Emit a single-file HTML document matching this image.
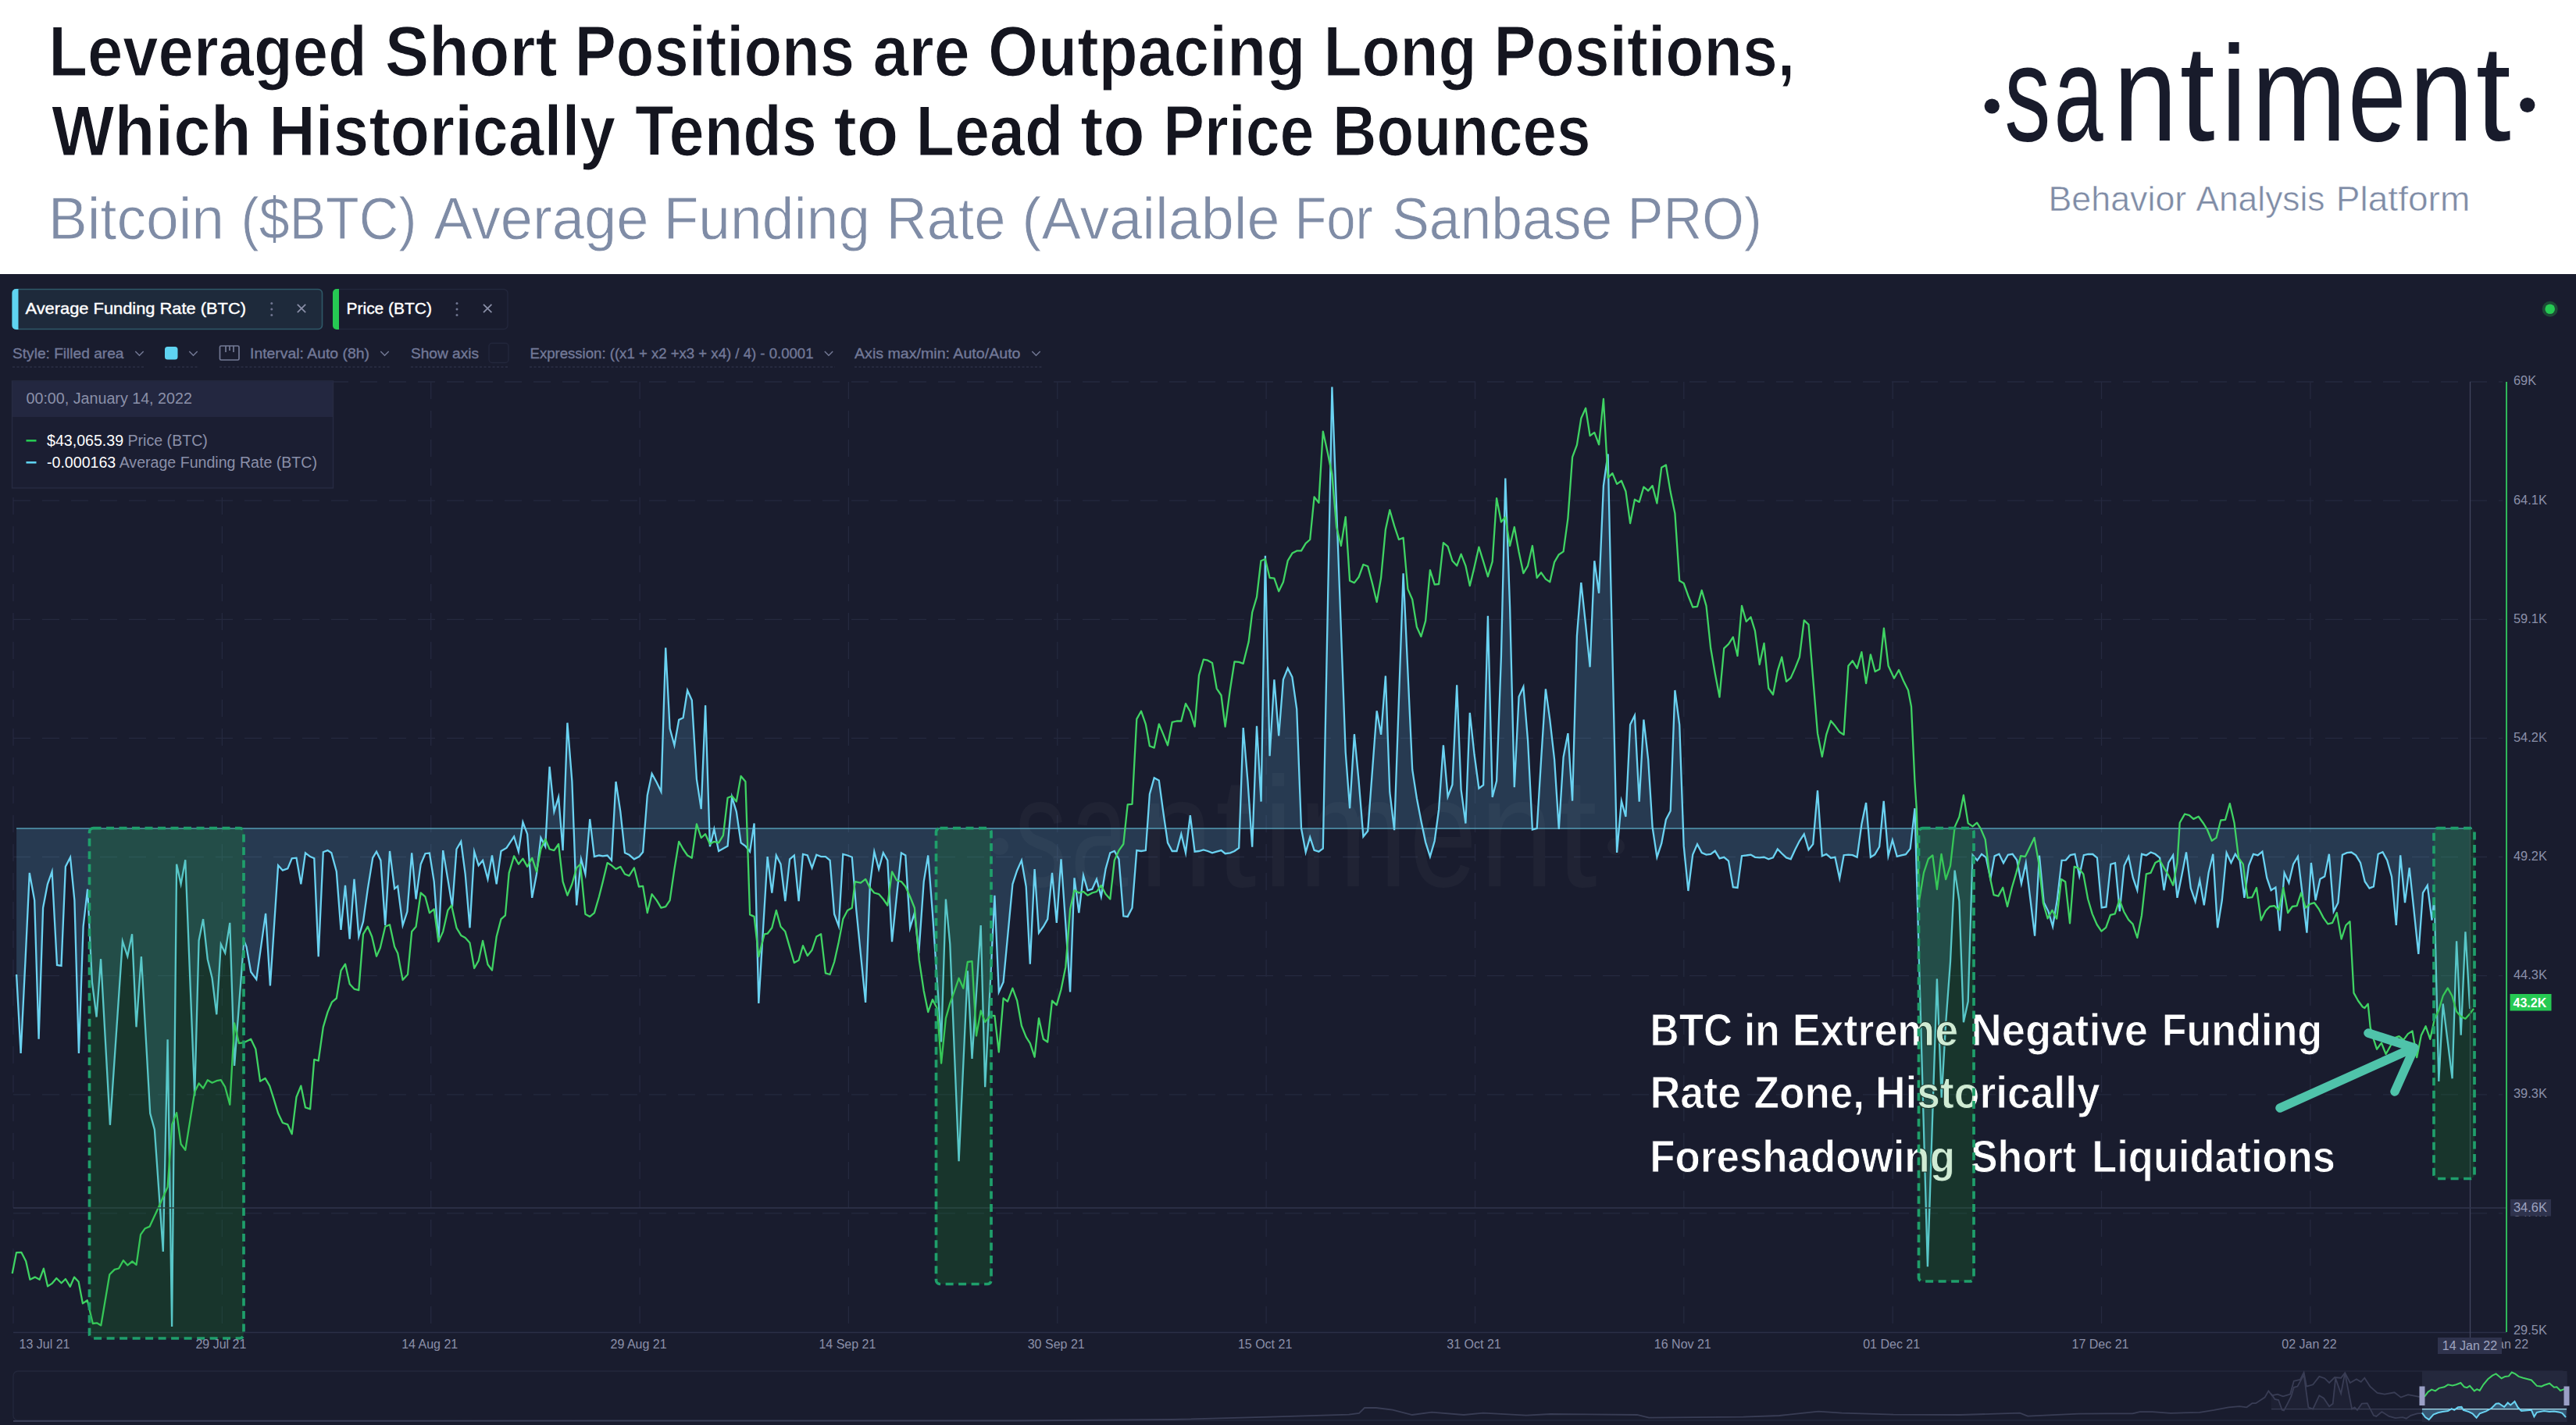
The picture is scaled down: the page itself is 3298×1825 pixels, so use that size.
<!DOCTYPE html><html><head><meta charset="utf-8"><title>Santiment chart</title>
<style>html,body{margin:0;padding:0;background:#fff}body{width:3298px;height:1825px;overflow:hidden}svg{display:block}text{font-family:"Liberation Sans",sans-serif}</style></head><body>
<svg width="3298" height="1825" viewBox="0 0 3298 1825">
<rect x="0" y="0" width="3298" height="351" fill="#ffffff"/>
<rect x="0" y="351" width="3298" height="1474" fill="#191c2e"/>
<g id="header">
<text y="96.5" font-size="90" font-weight="700" fill="#14151f" stroke="#ffffff" stroke-width="1.2" stroke-linejoin="round"><tspan x="62.2" textLength="407.7" lengthAdjust="spacingAndGlyphs">Leveraged</tspan> <tspan x="492.7" textLength="220.9" lengthAdjust="spacingAndGlyphs">Short</tspan> <tspan x="735.7" textLength="358.3" lengthAdjust="spacingAndGlyphs">Positions</tspan> <tspan x="1117.6" textLength="124.0" lengthAdjust="spacingAndGlyphs">are</tspan> <tspan x="1265.0" textLength="406.4" lengthAdjust="spacingAndGlyphs">Outpacing</tspan> <tspan x="1694.4" textLength="196.3" lengthAdjust="spacingAndGlyphs">Long</tspan> <tspan x="1912.6" textLength="385.6" lengthAdjust="spacingAndGlyphs">Positions,</tspan></text>
<text y="199.3" font-size="90" font-weight="700" fill="#14151f" stroke="#ffffff" stroke-width="1.2" stroke-linejoin="round"><tspan x="66.1" textLength="255.6" lengthAdjust="spacingAndGlyphs">Which</tspan> <tspan x="344.3" textLength="443.8" lengthAdjust="spacingAndGlyphs">Historically</tspan> <tspan x="813.1" textLength="232.8" lengthAdjust="spacingAndGlyphs">Tends</tspan> <tspan x="1067.5" textLength="82.8" lengthAdjust="spacingAndGlyphs">to</tspan> <tspan x="1172.6" textLength="188.8" lengthAdjust="spacingAndGlyphs">Lead</tspan> <tspan x="1383.2" textLength="82.6" lengthAdjust="spacingAndGlyphs">to</tspan> <tspan x="1489.2" textLength="193.4" lengthAdjust="spacingAndGlyphs">Price</tspan> <tspan x="1706.1" textLength="330.5" lengthAdjust="spacingAndGlyphs">Bounces</tspan></text>
<text y="305.6" font-size="76" font-weight="400" fill="#7f8ca6" stroke="#ffffff" stroke-width="0.8" stroke-linejoin="round"><tspan x="61.8" textLength="225.3" lengthAdjust="spacingAndGlyphs">Bitcoin</tspan> <tspan x="308.4" textLength="225.1" lengthAdjust="spacingAndGlyphs">($BTC)</tspan> <tspan x="555.5" textLength="275.1" lengthAdjust="spacingAndGlyphs">Average</tspan> <tspan x="849.7" textLength="264.3" lengthAdjust="spacingAndGlyphs">Funding</tspan> <tspan x="1134.5" textLength="152.9" lengthAdjust="spacingAndGlyphs">Rate</tspan> <tspan x="1308.3" textLength="330.3" lengthAdjust="spacingAndGlyphs">(Available</tspan> <tspan x="1657.4" textLength="100.5" lengthAdjust="spacingAndGlyphs">For</tspan> <tspan x="1782.2" textLength="282.0" lengthAdjust="spacingAndGlyphs">Sanbase</tspan> <tspan x="2083.6" textLength="172.0" lengthAdjust="spacingAndGlyphs">PRO)</tspan></text>
<circle cx="2550.3" cy="136" r="9.6" fill="#181b2b"/><circle cx="3235.8" cy="134.5" r="9.6" fill="#181b2b"/>
<text y="179.8" font-size="175" font-weight="400" fill="#181b2b" ><tspan x="2566.3" textLength="59.1" lengthAdjust="spacingAndGlyphs">s</tspan><tspan x="2629.5" textLength="63.1" lengthAdjust="spacingAndGlyphs">a</tspan><tspan x="2705.7" textLength="81.6" lengthAdjust="spacingAndGlyphs">n</tspan><tspan x="2790.7" textLength="44.9" lengthAdjust="spacingAndGlyphs">t</tspan><tspan x="2843.6" textLength="33.1" lengthAdjust="spacingAndGlyphs">i</tspan><tspan x="2882.7" textLength="121.1" lengthAdjust="spacingAndGlyphs">m</tspan><tspan x="3006.0" textLength="74.6" lengthAdjust="spacingAndGlyphs">e</tspan><tspan x="3084.4" textLength="82.0" lengthAdjust="spacingAndGlyphs">n</tspan><tspan x="3169.7" textLength="44.9" lengthAdjust="spacingAndGlyphs">t</tspan></text>
<text y="269.5" font-size="43.6" font-weight="400" fill="#7f8ca6" stroke="#ffffff" stroke-width="0.5"><tspan x="2622.5" textLength="176.7" lengthAdjust="spacingAndGlyphs">Behavior</tspan> <tspan x="2811.4" textLength="165.1" lengthAdjust="spacingAndGlyphs">Analysis</tspan> <tspan x="2990.8" textLength="171.5" lengthAdjust="spacingAndGlyphs">Platform</tspan></text>
</g>
<g id="grid" stroke="#25293f" stroke-width="1.3" stroke-dasharray="22,15" fill="none">
<path d="M17,489.0 H3204"/>
<path d="M17,641.1 H3204"/>
<path d="M17,793.3 H3204"/>
<path d="M17,945.4 H3204"/>
<path d="M17,1097.5 H3204"/>
<path d="M17,1249.7 H3204"/>
<path d="M17,1401.8 H3204"/>
<path d="M17,1553.9 H3204"/>
<path d="M17.0,489 V1706"/>
<path d="M284.4,489 V1706"/>
<path d="M551.7,489 V1706"/>
<path d="M819.1,489 V1706"/>
<path d="M1086.4,489 V1706"/>
<path d="M1353.8,489 V1706"/>
<path d="M1621.1,489 V1706"/>
<path d="M1888.5,489 V1706"/>
<path d="M2155.8,489 V1706"/>
<path d="M2423.2,489 V1706"/>
<path d="M2690.5,489 V1706"/>
<path d="M2957.9,489 V1706"/>
</g>
<path d="M17,1706.5 H3209" stroke="#2b2f47" stroke-width="1.5"/>
<path d="M21.1,1061 L21.1,1248.0 L26.6,1349.0 L32.5,1230.0 L37.8,1117.9 L44.2,1153.1 L49.6,1330.7 L55.1,1162.7 L60.9,1132.3 L66.6,1116.3 L73.0,1235.9 L78.5,1236.8 L83.9,1109.9 L90.0,1098.0 L95.4,1153.1 L100.9,1348.9 L106.6,1186.7 L112.1,1138.7 L117.9,1257.6 L123.6,1302.5 L129.1,1228.2 L140.9,1440.8 L156.9,1205.4 L163.3,1224.7 L169.1,1196.3 L174.5,1315.3 L180.9,1225.0 L192.2,1425.8 L197.9,1446.6 L208.8,1602.9 L214.6,1331.3 L220.1,1699.1 L226.1,1106.7 L231.6,1132.3 L237.3,1101.2 L249.2,1403.4 L254.6,1204.5 L260.1,1177.1 L265.8,1228.5 L271.6,1252.8 L277.3,1299.3 L282.8,1209.3 L288.2,1220.5 L294.3,1181.9 L300.1,1364.9 L312.3,1204.5 L315.5,1212.5 L321.2,1244.8 L328.3,1254.4 L340.1,1169.8 L345.9,1262.5 L356.1,1108.3 L361.9,1114.7 L368.3,1112.4 L373.7,1099.3 L379.5,1098.7 L385.3,1132.3 L391.0,1092.3 L397.1,1097.1 L402.3,1099.3 L407.7,1225.2 L413.8,1091.3 L419.5,1089.1 L424.3,1092.3 L430.8,1116.3 L436.5,1190.9 L442.0,1133.9 L447.7,1202.7 L453.5,1125.9 L459.3,1199.5 L465.0,1180.3 L470.8,1138.7 L477.2,1098.7 L482.0,1090.7 L487.4,1101.9 L493.2,1185.1 L499.0,1090.0 L505.1,1138.1 L509.2,1134.9 L515.6,1185.1 L521.4,1167.5 L527.2,1092.3 L532.6,1151.5 L538.7,1106.7 L544.4,1093.2 L549.9,1092.6 L555.7,1129.1 L561.4,1206.0 L567.2,1089.1 L573.3,1125.9 L579.0,1161.1 L584.5,1087.5 L590.2,1077.8 L595.7,1119.5 L601.5,1188.3 L607.2,1090.7 L612.7,1108.3 L618.1,1101.9 L624.5,1125.9 L630.0,1095.5 L635.7,1132.3 L641.5,1090.0 L648.5,1085.9 L658.1,1071.4 L663.9,1090.7 L669.4,1052.9 L675.1,1068.2 L681.2,1149.9 L687.0,1119.5 L692.4,1073.0 L698.2,1084.3 L703.6,981.8 L709.4,1039.4 L715.1,1020.8 L720.6,1089.1 L726.4,925.7 L732.4,1001.0 L738.2,1159.5 L744.0,1100.3 L749.4,1119.5 L755.2,1049.0 L760.9,1097.1 L767.0,1095.5 L771.8,1096.4 L777.6,1095.5 L783.0,1101.9 L788.5,1001.0 L794.3,1039.4 L800.0,1092.3 L805.5,1094.8 L811.9,1100.3 L818.3,1097.1 L823.1,1091.3 L828.8,1018.6 L834.6,990.7 L840.7,1001.9 L846.4,1013.8 L852.2,829.6 L857.6,933.1 L863.4,954.5 L869.2,921.9 L874.6,919.3 L880.1,884.1 L885.8,896.9 L891.9,997.8 L897.7,1036.2 L903.1,903.3 L908.9,1084.3 L914.3,1061.8 L920.1,1090.0 L925.9,1086.8 L931.6,1083.6 L937.1,1020.8 L942.8,1039.4 L948.6,1079.4 L954.4,1083.6 L960.1,1090.7 L965.6,1054.5 L971.3,1284.9 L982.6,1097.1 L988.3,1143.5 L993.8,1095.5 L999.5,1106.7 L1005.3,1154.1 L1011.1,1100.3 L1016.8,1095.5 L1022.6,1154.1 L1028.0,1093.9 L1033.8,1095.5 L1039.6,1111.5 L1045.3,1094.8 L1051.1,1097.1 L1056.9,1097.1 L1062.6,1101.9 L1068.1,1170.7 L1073.8,1186.1 L1079.3,1093.9 L1085.0,1095.5 L1090.8,1097.7 L1096.2,1164.3 L1108.1,1283.9 L1113.9,1132.3 L1119.3,1090.7 L1125.1,1113.1 L1130.8,1092.3 L1136.3,1101.9 L1142.0,1206.2 L1148.1,1146.7 L1153.9,1092.3 L1159.3,1095.5 L1165.1,1188.3 L1170.9,1169.1 L1176.3,1220.8 L1182.7,1129.1 L1188.2,1095.5 L1193.9,1169.1 L1205.1,1334.5 L1210.9,1151.5 L1216.3,1209.2 L1227.6,1487.3 L1238.8,1243.2 L1244.5,1356.0 L1255.7,1185.1 L1261.2,1392.2 L1273.4,1146.7 L1278.8,1270.5 L1284.6,1257.6 L1296.4,1132.3 L1302.2,1114.7 L1307.9,1101.9 L1313.7,1135.5 L1318.8,1234.6 L1324.6,1113.1 L1330.0,1194.7 L1335.8,1186.7 L1341.2,1177.1 L1347.0,1117.9 L1352.8,1181.9 L1358.5,1100.3 L1364.3,1183.5 L1370.1,1270.5 L1375.5,1124.3 L1381.3,1169.1 L1387.0,1121.1 L1392.5,1140.3 L1398.3,1138.7 L1404.0,1125.9 L1409.8,1148.3 L1415.5,1113.1 L1421.3,1092.3 L1426.8,1090.0 L1432.5,1100.3 L1438.3,1173.3 L1443.7,1173.9 L1449.5,1162.7 L1455.3,1089.1 L1461.0,1090.0 L1466.8,1089.1 L1471.9,1017.0 L1477.7,996.2 L1483.8,999.4 L1489.2,1039.4 L1495.0,1079.4 L1500.7,1090.0 L1506.5,1090.0 L1512.3,1068.2 L1518.0,1092.3 L1523.8,1044.2 L1529.6,1090.7 L1535.0,1090.0 L1540.8,1088.4 L1546.2,1090.0 L1552.0,1092.3 L1557.7,1090.7 L1563.5,1089.1 L1568.6,1093.2 L1575.0,1092.3 L1580.5,1090.0 L1586.2,1085.9 L1591.7,932.1 L1597.5,1001.0 L1603.2,1084.6 L1609.0,929.8 L1614.6,1026.6 L1619.9,711.8 L1625.6,968.1 L1631.4,870.3 L1637.2,942.5 L1642.9,870.3 L1648.7,855.9 L1654.4,867.1 L1660.2,908.0 L1666.0,1060.9 L1671.7,1091.4 L1677.2,1072.2 L1682.6,1088.8 L1688.4,1090.7 L1693.8,1086.6 L1705.4,495.6 L1722.7,963.3 L1728.1,1035.3 L1733.9,940.2 L1739.6,1000.1 L1745.4,1071.5 L1751.2,1064.2 L1762.7,910.4 L1768.1,940.9 L1773.9,865.5 L1779.3,1014.5 L1785.1,1063.2 L1796.6,734.2 L1808.2,985.7 L1813.9,1022.5 L1819.4,1051.3 L1825.1,1078.6 L1830.9,1097.1 L1836.7,1077.0 L1842.1,1036.9 L1847.9,954.3 L1853.6,1020.3 L1859.4,1004.9 L1865.2,877.4 L1870.6,1011.3 L1876.4,1054.5 L1881.8,912.8 L1887.6,966.5 L1893.4,1009.7 L1899.1,1005.5 L1904.9,788.7 L1910.7,1020.9 L1916.1,1000.1 L1921.9,841.5 L1927.3,612.5 L1933.1,777.5 L1938.8,1008.1 L1944.6,892.3 L1950.4,879.5 L1956.1,948.9 L1961.9,1062.6 L1967.7,1060.9 L1973.1,972.9 L1978.9,882.4 L1984.3,921.6 L1990.1,972.9 L1995.8,1061.9 L2001.6,969.7 L2007.4,939.2 L2013.1,1025.7 L2018.9,814.3 L2024.3,746.1 L2030.1,799.9 L2035.6,854.3 L2041.3,718.2 L2047.1,759.8 L2052.9,622.1 L2058.6,581.5 L2070.1,1092.0 L2075.9,1025.7 L2081.4,1045.9 L2087.1,928.0 L2092.9,916.3 L2098.7,1026.7 L2104.4,921.6 L2110.2,972.9 L2115.6,1059.3 L2121.4,1097.8 L2127.2,1080.2 L2132.9,1049.7 L2138.7,1038.5 L2144.4,884.0 L2150.2,928.0 L2155.7,1083.4 L2161.4,1141.0 L2167.2,1094.6 L2173.0,1081.1 L2178.7,1092.0 L2184.5,1094.6 L2190.2,1093.9 L2195.7,1089.8 L2201.5,1099.4 L2207.2,1097.8 L2213.0,1102.6 L2218.8,1136.2 L2224.5,1136.9 L2230.0,1096.2 L2235.7,1095.5 L2241.5,1094.6 L2246.9,1097.8 L2252.7,1098.4 L2258.5,1097.8 L2264.2,1100.3 L2270.0,1098.4 L2275.8,1087.5 L2281.2,1093.0 L2287.0,1098.4 L2292.7,1100.3 L2298.2,1088.2 L2303.9,1077.0 L2309.7,1068.3 L2315.5,1088.2 L2321.2,1081.1 L2327.0,1012.3 L2332.8,1096.2 L2338.2,1093.9 L2344.0,1098.7 L2349.4,1097.8 L2355.2,1125.0 L2360.6,1095.2 L2366.4,1094.6 L2371.8,1095.2 L2377.6,1097.8 L2383.4,1055.5 L2389.1,1028.0 L2394.9,1097.8 L2400.3,1094.4 L2406.1,1084.5 L2411.7,1025.8 L2417.5,1096.3 L2422.9,1075.9 L2428.7,1096.9 L2434.4,1095.4 L2439.9,1094.1 L2445.7,1086.9 L2451.5,1035.2 L2467.9,1622.2 L2479.9,1253.6 L2485.7,1405.7 L2491.2,1310.3 L2497.0,1231.6 L2502.6,1114.6 L2508.4,1154.0 L2513.9,1309.2 L2519.7,1282.5 L2525.5,1094.9 L2531.4,1101.8 L2537.0,1093.8 L2542.6,1098.1 L2548.4,1125.4 L2553.6,1096.4 L2559.4,1093.8 L2565.0,1105.2 L2570.8,1094.8 L2576.6,1093.8 L2582.2,1101.5 L2587.9,1131.7 L2593.7,1105.2 L2599.5,1152.5 L2605.1,1198.7 L2610.9,1095.7 L2616.7,1155.7 L2622.4,1167.1 L2628.1,1186.5 L2633.8,1152.1 L2639.6,1101.8 L2644.8,1101.6 L2650.6,1095.1 L2656.4,1093.8 L2662.2,1121.9 L2667.8,1095.1 L2673.5,1093.8 L2679.3,1094.0 L2684.9,1098.5 L2690.7,1162.4 L2696.5,1161.5 L2702.3,1106.8 L2708.0,1105.2 L2713.8,1167.1 L2719.6,1108.5 L2725.2,1097.1 L2730.8,1124.2 L2736.3,1140.2 L2742.0,1093.8 L2747.8,1095.4 L2753.6,1091.5 L2759.3,1093.8 L2765.1,1098.6 L2770.5,1140.2 L2776.3,1105.0 L2782.1,1095.4 L2787.5,1149.8 L2793.3,1121.0 L2799.0,1091.5 L2804.8,1137.6 L2810.6,1154.6 L2816.3,1127.4 L2821.8,1159.4 L2827.6,1117.8 L2833.3,1093.8 L2839.1,1188.2 L2844.8,1153.0 L2850.6,1092.2 L2856.4,1105.0 L2861.8,1093.8 L2867.6,1102.4 L2873.4,1149.8 L2879.1,1108.2 L2884.9,1093.8 L2890.6,1095.4 L2896.4,1090.6 L2902.2,1124.2 L2907.6,1140.2 L2913.4,1136.4 L2918.8,1192.1 L2924.6,1117.8 L2930.4,1130.6 L2936.1,1106.6 L2941.9,1097.0 L2947.7,1145.0 L2953.4,1194.6 L2958.9,1105.0 L2964.6,1153.0 L2970.4,1125.8 L2976.2,1122.6 L2981.9,1093.8 L2987.7,1167.4 L2993.4,1156.2 L2998.9,1094.7 L3004.7,1092.2 L3010.4,1091.5 L3016.2,1095.4 L3022.0,1105.0 L3027.7,1129.0 L3033.5,1137.6 L3038.9,1135.4 L3044.7,1093.8 L3050.5,1091.2 L3056.2,1101.8 L3062.0,1122.6 L3067.8,1185.0 L3073.2,1095.4 L3079.0,1156.2 L3084.7,1111.4 L3090.5,1165.8 L3096.3,1221.9 L3102.0,1143.4 L3107.8,1133.8 L3113.5,1178.6 L3116.6,1149.5 L3122.3,1385.0 L3127.7,1285.5 L3139.6,1381.3 L3145.1,1205.2 L3150.7,1325.7 L3156.4,1193.3 L3162.2,1291.9 L3162.2,1061 Z" fill="#66c6ee" fill-opacity="0.185" stroke="none"/>
<g fill="#ffffff" fill-opacity="0.032"><circle cx="1280" cy="1084" r="11"/><circle cx="2069" cy="1084" r="11"/><text y="1134.5" font-size="201.4" font-weight="400" ><tspan x="1299.0" textLength="66.9" lengthAdjust="spacingAndGlyphs">s</tspan><tspan x="1371.1" textLength="73.1" lengthAdjust="spacingAndGlyphs">a</tspan><tspan x="1458.6" textLength="94.2" lengthAdjust="spacingAndGlyphs">n</tspan><tspan x="1556.0" textLength="52.6" lengthAdjust="spacingAndGlyphs">t</tspan><tspan x="1617.1" textLength="39.0" lengthAdjust="spacingAndGlyphs">i</tspan><tspan x="1662.3" textLength="140.0" lengthAdjust="spacingAndGlyphs">m</tspan><tspan x="1804.5" textLength="86.3" lengthAdjust="spacingAndGlyphs">e</tspan><tspan x="1894.4" textLength="94.8" lengthAdjust="spacingAndGlyphs">n</tspan><tspan x="1992.2" textLength="52.6" lengthAdjust="spacingAndGlyphs">t</tspan></text></g>
<path d="M21,1061 H3165" stroke="#559db6" stroke-width="1.5" fill="none"/>
<path d="M21.1,1248.0 L26.6,1349.0 L32.5,1230.0 L37.8,1117.9 L44.2,1153.1 L49.6,1330.7 L55.1,1162.7 L60.9,1132.3 L66.6,1116.3 L73.0,1235.9 L78.5,1236.8 L83.9,1109.9 L90.0,1098.0 L95.4,1153.1 L100.9,1348.9 L106.6,1186.7 L112.1,1138.7 L117.9,1257.6 L123.6,1302.5 L129.1,1228.2 L140.9,1440.8 L156.9,1205.4 L163.3,1224.7 L169.1,1196.3 L174.5,1315.3 L180.9,1225.0 L192.2,1425.8 L197.9,1446.6 L208.8,1602.9 L214.6,1331.3 L220.1,1699.1 L226.1,1106.7 L231.6,1132.3 L237.3,1101.2 L249.2,1403.4 L254.6,1204.5 L260.1,1177.1 L265.8,1228.5 L271.6,1252.8 L277.3,1299.3 L282.8,1209.3 L288.2,1220.5 L294.3,1181.9 L300.1,1364.9 L312.3,1204.5 L315.5,1212.5 L321.2,1244.8 L328.3,1254.4 L340.1,1169.8 L345.9,1262.5 L356.1,1108.3 L361.9,1114.7 L368.3,1112.4 L373.7,1099.3 L379.5,1098.7 L385.3,1132.3 L391.0,1092.3 L397.1,1097.1 L402.3,1099.3 L407.7,1225.2 L413.8,1091.3 L419.5,1089.1 L424.3,1092.3 L430.8,1116.3 L436.5,1190.9 L442.0,1133.9 L447.7,1202.7 L453.5,1125.9 L459.3,1199.5 L465.0,1180.3 L470.8,1138.7 L477.2,1098.7 L482.0,1090.7 L487.4,1101.9 L493.2,1185.1 L499.0,1090.0 L505.1,1138.1 L509.2,1134.9 L515.6,1185.1 L521.4,1167.5 L527.2,1092.3 L532.6,1151.5 L538.7,1106.7 L544.4,1093.2 L549.9,1092.6 L555.7,1129.1 L561.4,1206.0 L567.2,1089.1 L573.3,1125.9 L579.0,1161.1 L584.5,1087.5 L590.2,1077.8 L595.7,1119.5 L601.5,1188.3 L607.2,1090.7 L612.7,1108.3 L618.1,1101.9 L624.5,1125.9 L630.0,1095.5 L635.7,1132.3 L641.5,1090.0 L648.5,1085.9 L658.1,1071.4 L663.9,1090.7 L669.4,1052.9 L675.1,1068.2 L681.2,1149.9 L687.0,1119.5 L692.4,1073.0 L698.2,1084.3 L703.6,981.8 L709.4,1039.4 L715.1,1020.8 L720.6,1089.1 L726.4,925.7 L732.4,1001.0 L738.2,1159.5 L744.0,1100.3 L749.4,1119.5 L755.2,1049.0 L760.9,1097.1 L767.0,1095.5 L771.8,1096.4 L777.6,1095.5 L783.0,1101.9 L788.5,1001.0 L794.3,1039.4 L800.0,1092.3 L805.5,1094.8 L811.9,1100.3 L818.3,1097.1 L823.1,1091.3 L828.8,1018.6 L834.6,990.7 L840.7,1001.9 L846.4,1013.8 L852.2,829.6 L857.6,933.1 L863.4,954.5 L869.2,921.9 L874.6,919.3 L880.1,884.1 L885.8,896.9 L891.9,997.8 L897.7,1036.2 L903.1,903.3 L908.9,1084.3 L914.3,1061.8 L920.1,1090.0 L925.9,1086.8 L931.6,1083.6 L937.1,1020.8 L942.8,1039.4 L948.6,1079.4 L954.4,1083.6 L960.1,1090.7 L965.6,1054.5 L971.3,1284.9 L982.6,1097.1 L988.3,1143.5 L993.8,1095.5 L999.5,1106.7 L1005.3,1154.1 L1011.1,1100.3 L1016.8,1095.5 L1022.6,1154.1 L1028.0,1093.9 L1033.8,1095.5 L1039.6,1111.5 L1045.3,1094.8 L1051.1,1097.1 L1056.9,1097.1 L1062.6,1101.9 L1068.1,1170.7 L1073.8,1186.1 L1079.3,1093.9 L1085.0,1095.5 L1090.8,1097.7 L1096.2,1164.3 L1108.1,1283.9 L1113.9,1132.3 L1119.3,1090.7 L1125.1,1113.1 L1130.8,1092.3 L1136.3,1101.9 L1142.0,1206.2 L1148.1,1146.7 L1153.9,1092.3 L1159.3,1095.5 L1165.1,1188.3 L1170.9,1169.1 L1176.3,1220.8 L1182.7,1129.1 L1188.2,1095.5 L1193.9,1169.1 L1205.1,1334.5 L1210.9,1151.5 L1216.3,1209.2 L1227.6,1487.3 L1238.8,1243.2 L1244.5,1356.0 L1255.7,1185.1 L1261.2,1392.2 L1273.4,1146.7 L1278.8,1270.5 L1284.6,1257.6 L1296.4,1132.3 L1302.2,1114.7 L1307.9,1101.9 L1313.7,1135.5 L1318.8,1234.6 L1324.6,1113.1 L1330.0,1194.7 L1335.8,1186.7 L1341.2,1177.1 L1347.0,1117.9 L1352.8,1181.9 L1358.5,1100.3 L1364.3,1183.5 L1370.1,1270.5 L1375.5,1124.3 L1381.3,1169.1 L1387.0,1121.1 L1392.5,1140.3 L1398.3,1138.7 L1404.0,1125.9 L1409.8,1148.3 L1415.5,1113.1 L1421.3,1092.3 L1426.8,1090.0 L1432.5,1100.3 L1438.3,1173.3 L1443.7,1173.9 L1449.5,1162.7 L1455.3,1089.1 L1461.0,1090.0 L1466.8,1089.1 L1471.9,1017.0 L1477.7,996.2 L1483.8,999.4 L1489.2,1039.4 L1495.0,1079.4 L1500.7,1090.0 L1506.5,1090.0 L1512.3,1068.2 L1518.0,1092.3 L1523.8,1044.2 L1529.6,1090.7 L1535.0,1090.0 L1540.8,1088.4 L1546.2,1090.0 L1552.0,1092.3 L1557.7,1090.7 L1563.5,1089.1 L1568.6,1093.2 L1575.0,1092.3 L1580.5,1090.0 L1586.2,1085.9 L1591.7,932.1 L1597.5,1001.0 L1603.2,1084.6 L1609.0,929.8 L1614.6,1026.6 L1619.9,711.8 L1625.6,968.1 L1631.4,870.3 L1637.2,942.5 L1642.9,870.3 L1648.7,855.9 L1654.4,867.1 L1660.2,908.0 L1666.0,1060.9 L1671.7,1091.4 L1677.2,1072.2 L1682.6,1088.8 L1688.4,1090.7 L1693.8,1086.6 L1705.4,495.6 L1722.7,963.3 L1728.1,1035.3 L1733.9,940.2 L1739.6,1000.1 L1745.4,1071.5 L1751.2,1064.2 L1762.7,910.4 L1768.1,940.9 L1773.9,865.5 L1779.3,1014.5 L1785.1,1063.2 L1796.6,734.2 L1808.2,985.7 L1813.9,1022.5 L1819.4,1051.3 L1825.1,1078.6 L1830.9,1097.1 L1836.7,1077.0 L1842.1,1036.9 L1847.9,954.3 L1853.6,1020.3 L1859.4,1004.9 L1865.2,877.4 L1870.6,1011.3 L1876.4,1054.5 L1881.8,912.8 L1887.6,966.5 L1893.4,1009.7 L1899.1,1005.5 L1904.9,788.7 L1910.7,1020.9 L1916.1,1000.1 L1921.9,841.5 L1927.3,612.5 L1933.1,777.5 L1938.8,1008.1 L1944.6,892.3 L1950.4,879.5 L1956.1,948.9 L1961.9,1062.6 L1967.7,1060.9 L1973.1,972.9 L1978.9,882.4 L1984.3,921.6 L1990.1,972.9 L1995.8,1061.9 L2001.6,969.7 L2007.4,939.2 L2013.1,1025.7 L2018.9,814.3 L2024.3,746.1 L2030.1,799.9 L2035.6,854.3 L2041.3,718.2 L2047.1,759.8 L2052.9,622.1 L2058.6,581.5 L2070.1,1092.0 L2075.9,1025.7 L2081.4,1045.9 L2087.1,928.0 L2092.9,916.3 L2098.7,1026.7 L2104.4,921.6 L2110.2,972.9 L2115.6,1059.3 L2121.4,1097.8 L2127.2,1080.2 L2132.9,1049.7 L2138.7,1038.5 L2144.4,884.0 L2150.2,928.0 L2155.7,1083.4 L2161.4,1141.0 L2167.2,1094.6 L2173.0,1081.1 L2178.7,1092.0 L2184.5,1094.6 L2190.2,1093.9 L2195.7,1089.8 L2201.5,1099.4 L2207.2,1097.8 L2213.0,1102.6 L2218.8,1136.2 L2224.5,1136.9 L2230.0,1096.2 L2235.7,1095.5 L2241.5,1094.6 L2246.9,1097.8 L2252.7,1098.4 L2258.5,1097.8 L2264.2,1100.3 L2270.0,1098.4 L2275.8,1087.5 L2281.2,1093.0 L2287.0,1098.4 L2292.7,1100.3 L2298.2,1088.2 L2303.9,1077.0 L2309.7,1068.3 L2315.5,1088.2 L2321.2,1081.1 L2327.0,1012.3 L2332.8,1096.2 L2338.2,1093.9 L2344.0,1098.7 L2349.4,1097.8 L2355.2,1125.0 L2360.6,1095.2 L2366.4,1094.6 L2371.8,1095.2 L2377.6,1097.8 L2383.4,1055.5 L2389.1,1028.0 L2394.9,1097.8 L2400.3,1094.4 L2406.1,1084.5 L2411.7,1025.8 L2417.5,1096.3 L2422.9,1075.9 L2428.7,1096.9 L2434.4,1095.4 L2439.9,1094.1 L2445.7,1086.9 L2451.5,1035.2 L2467.9,1622.2 L2479.9,1253.6 L2485.7,1405.7 L2491.2,1310.3 L2497.0,1231.6 L2502.6,1114.6 L2508.4,1154.0 L2513.9,1309.2 L2519.7,1282.5 L2525.5,1094.9 L2531.4,1101.8 L2537.0,1093.8 L2542.6,1098.1 L2548.4,1125.4 L2553.6,1096.4 L2559.4,1093.8 L2565.0,1105.2 L2570.8,1094.8 L2576.6,1093.8 L2582.2,1101.5 L2587.9,1131.7 L2593.7,1105.2 L2599.5,1152.5 L2605.1,1198.7 L2610.9,1095.7 L2616.7,1155.7 L2622.4,1167.1 L2628.1,1186.5 L2633.8,1152.1 L2639.6,1101.8 L2644.8,1101.6 L2650.6,1095.1 L2656.4,1093.8 L2662.2,1121.9 L2667.8,1095.1 L2673.5,1093.8 L2679.3,1094.0 L2684.9,1098.5 L2690.7,1162.4 L2696.5,1161.5 L2702.3,1106.8 L2708.0,1105.2 L2713.8,1167.1 L2719.6,1108.5 L2725.2,1097.1 L2730.8,1124.2 L2736.3,1140.2 L2742.0,1093.8 L2747.8,1095.4 L2753.6,1091.5 L2759.3,1093.8 L2765.1,1098.6 L2770.5,1140.2 L2776.3,1105.0 L2782.1,1095.4 L2787.5,1149.8 L2793.3,1121.0 L2799.0,1091.5 L2804.8,1137.6 L2810.6,1154.6 L2816.3,1127.4 L2821.8,1159.4 L2827.6,1117.8 L2833.3,1093.8 L2839.1,1188.2 L2844.8,1153.0 L2850.6,1092.2 L2856.4,1105.0 L2861.8,1093.8 L2867.6,1102.4 L2873.4,1149.8 L2879.1,1108.2 L2884.9,1093.8 L2890.6,1095.4 L2896.4,1090.6 L2902.2,1124.2 L2907.6,1140.2 L2913.4,1136.4 L2918.8,1192.1 L2924.6,1117.8 L2930.4,1130.6 L2936.1,1106.6 L2941.9,1097.0 L2947.7,1145.0 L2953.4,1194.6 L2958.9,1105.0 L2964.6,1153.0 L2970.4,1125.8 L2976.2,1122.6 L2981.9,1093.8 L2987.7,1167.4 L2993.4,1156.2 L2998.9,1094.7 L3004.7,1092.2 L3010.4,1091.5 L3016.2,1095.4 L3022.0,1105.0 L3027.7,1129.0 L3033.5,1137.6 L3038.9,1135.4 L3044.7,1093.8 L3050.5,1091.2 L3056.2,1101.8 L3062.0,1122.6 L3067.8,1185.0 L3073.2,1095.4 L3079.0,1156.2 L3084.7,1111.4 L3090.5,1165.8 L3096.3,1221.9 L3102.0,1143.4 L3107.8,1133.8 L3113.5,1178.6 L3116.6,1149.5 L3122.3,1385.0 L3127.7,1285.5 L3139.6,1381.3 L3145.1,1205.2 L3150.7,1325.7 L3156.4,1193.3 L3162.2,1291.9" fill="none" stroke="#6ad2f1" stroke-width="2.3" stroke-linejoin="miter" stroke-miterlimit="6"/>
<path d="M15.7,1631.0 L21.0,1604.1 L27.3,1603.8 L33.2,1615.3 L38.4,1638.7 L44.7,1635.6 L50.7,1638.7 L55.9,1624.7 L61.1,1647.4 L66.4,1643.9 L72.3,1637.0 L78.6,1643.2 L83.9,1638.0 L89.8,1647.8 L95.0,1635.6 L100.6,1641.5 L105.9,1669.4 L111.8,1665.3 L118.8,1695.0 L124.0,1694.3 L129.3,1697.4 L140.3,1632.2 L146.7,1625.9 L152.1,1624.5 L157.9,1614.3 L163.4,1620.4 L169.3,1615.5 L174.6,1619.8 L180.1,1581.1 L185.8,1573.2 L191.5,1570.9 L202.5,1547.3 L214.6,1520.3 L220.3,1440.2 L226.1,1425.1 L231.6,1465.2 L237.3,1472.9 L249.2,1398.6 L254.6,1387.4 L260.1,1393.8 L265.8,1383.2 L271.6,1386.7 L277.3,1384.2 L282.8,1383.2 L288.2,1392.2 L294.3,1414.6 L300.1,1310.5 L305.9,1336.1 L312.3,1335.2 L321.2,1330.7 L327.3,1343.5 L333.1,1384.8 L339.5,1380.9 L345.2,1390.6 L350.7,1408.2 L356.1,1425.8 L361.9,1438.0 L368.3,1440.2 L373.7,1452.4 L379.5,1405.0 L385.3,1390.6 L391.0,1418.4 L397.1,1420.3 L402.3,1356.9 L407.7,1358.5 L413.8,1315.3 L419.5,1296.1 L425.0,1283.3 L430.8,1278.5 L436.5,1243.2 L442.0,1234.6 L447.7,1260.2 L453.5,1266.6 L459.3,1268.2 L465.0,1196.3 L470.8,1186.7 L476.2,1199.5 L482.0,1224.7 L486.8,1214.0 L493.2,1186.7 L499.0,1184.2 L505.1,1212.4 L509.2,1220.8 L515.6,1255.1 L522.0,1248.0 L527.2,1193.1 L532.6,1186.7 L538.7,1143.5 L544.4,1148.3 L549.9,1169.1 L555.7,1164.3 L561.4,1206.0 L567.2,1193.1 L573.3,1165.9 L578.1,1159.5 L584.5,1188.3 L590.2,1197.9 L595.7,1201.1 L601.5,1207.6 L607.2,1240.0 L612.7,1230.4 L618.1,1204.8 L624.5,1235.2 L630.0,1242.6 L635.7,1199.5 L641.5,1177.1 L646.9,1172.3 L651.7,1117.9 L658.1,1096.4 L663.9,1106.7 L669.4,1099.6 L675.1,1109.9 L681.2,1098.7 L687.0,1116.3 L692.4,1087.5 L698.2,1074.6 L703.6,1087.5 L709.4,1089.1 L715.1,1081.0 L720.6,1129.1 L726.4,1146.7 L732.4,1132.3 L738.2,1111.5 L743.0,1106.7 L749.4,1170.7 L755.2,1173.9 L760.9,1169.1 L767.0,1148.3 L771.8,1129.1 L777.6,1105.1 L783.0,1108.3 L788.5,1113.1 L794.3,1109.9 L800.0,1119.5 L805.5,1121.6 L811.9,1111.5 L817.9,1135.5 L823.1,1134.9 L828.8,1169.1 L834.6,1145.1 L840.7,1153.1 L846.4,1162.7 L852.2,1161.1 L857.6,1153.1 L863.4,1113.1 L869.2,1077.8 L874.6,1087.5 L880.1,1095.5 L885.8,1098.7 L891.9,1055.4 L897.7,1073.0 L903.1,1068.2 L908.9,1081.0 L914.3,1077.8 L920.1,1079.4 L925.9,1069.8 L931.6,1021.8 L937.1,1019.6 L942.8,1026.6 L948.6,993.9 L954.4,1001.0 L960.1,1171.4 L965.6,1173.9 L971.3,1225.0 L978.7,1196.3 L982.6,1195.7 L988.3,1188.3 L993.8,1165.9 L999.5,1186.7 L1005.3,1193.1 L1011.1,1213.4 L1016.8,1233.0 L1022.6,1229.8 L1028.0,1211.2 L1033.8,1224.0 L1039.6,1216.7 L1045.3,1199.5 L1051.1,1196.3 L1056.9,1246.4 L1062.6,1248.0 L1068.1,1232.0 L1073.8,1206.2 L1079.3,1177.1 L1085.0,1165.9 L1090.8,1162.7 L1094.6,1129.1 L1102.0,1130.7 L1108.1,1125.9 L1113.9,1137.1 L1119.3,1143.5 L1125.1,1145.1 L1130.8,1151.5 L1136.3,1159.5 L1142.0,1116.3 L1148.1,1127.5 L1153.9,1129.1 L1159.3,1135.5 L1165.1,1148.3 L1170.9,1162.7 L1176.8,1229.7 L1182.7,1268.9 L1188.2,1296.1 L1193.9,1280.1 L1199.7,1291.3 L1205.1,1361.7 L1210.9,1304.1 L1216.3,1284.9 L1222.1,1268.9 L1227.6,1252.8 L1233.3,1265.7 L1238.8,1232.0 L1244.5,1231.1 L1250.0,1326.5 L1255.7,1294.5 L1261.2,1308.9 L1267.6,1300.9 L1273.4,1300.9 L1278.8,1347.3 L1284.6,1278.5 L1290.0,1282.6 L1296.4,1265.7 L1302.2,1281.7 L1307.9,1313.7 L1313.7,1328.1 L1318.8,1336.1 L1324.6,1353.7 L1330.0,1304.1 L1335.8,1330.7 L1341.2,1334.5 L1347.0,1281.7 L1352.8,1287.1 L1358.5,1267.3 L1364.3,1238.4 L1370.1,1164.3 L1375.5,1140.3 L1381.3,1143.5 L1387.0,1141.9 L1392.5,1146.7 L1398.3,1143.5 L1404.0,1141.9 L1409.8,1133.9 L1415.5,1145.1 L1421.3,1151.5 L1426.8,1101.9 L1432.5,1089.1 L1438.3,1081.0 L1443.7,1030.4 L1449.5,1029.8 L1455.3,920.9 L1461.0,910.7 L1466.8,927.3 L1471.9,955.5 L1477.7,957.7 L1483.8,927.3 L1489.2,940.1 L1495.0,954.5 L1500.7,924.8 L1506.5,923.5 L1512.3,923.5 L1518.0,901.1 L1523.8,911.3 L1529.6,930.5 L1535.0,864.9 L1540.8,844.7 L1546.2,845.7 L1552.0,848.9 L1557.7,881.8 L1563.5,890.5 L1568.6,930.5 L1575.0,882.5 L1580.5,847.3 L1586.2,847.9 L1591.7,849.8 L1598.7,821.6 L1603.2,784.3 L1609.0,764.6 L1614.4,718.2 L1619.9,716.0 L1625.6,740.0 L1631.4,740.6 L1637.2,757.3 L1642.9,745.4 L1648.7,718.2 L1654.4,708.6 L1660.2,705.4 L1666.0,705.4 L1671.7,695.8 L1677.2,691.0 L1682.6,636.5 L1688.4,643.9 L1693.8,552.6 L1699.6,578.9 L1705.4,607.7 L1711.1,675.0 L1716.9,699.0 L1722.7,662.2 L1728.1,743.8 L1733.9,746.4 L1739.6,739.0 L1745.4,723.0 L1751.2,725.3 L1756.9,747.0 L1762.7,771.0 L1768.1,740.0 L1773.9,678.2 L1779.3,653.2 L1785.1,673.4 L1790.9,691.0 L1796.6,688.7 L1802.4,754.4 L1808.2,767.8 L1813.9,803.1 L1819.4,815.2 L1825.1,795.1 L1830.9,730.1 L1836.7,748.6 L1842.1,748.0 L1847.9,695.1 L1853.6,699.9 L1859.4,718.2 L1865.2,724.6 L1870.6,709.6 L1876.4,724.6 L1881.8,750.2 L1887.6,726.2 L1893.4,700.6 L1899.1,719.2 L1904.9,738.4 L1910.7,719.2 L1916.1,638.1 L1921.9,668.6 L1927.3,662.2 L1933.1,699.0 L1938.8,675.0 L1944.6,707.0 L1950.4,734.2 L1956.1,724.6 L1961.9,699.0 L1967.7,740.0 L1973.1,733.3 L1978.9,741.6 L1984.3,745.4 L1990.1,719.8 L1995.8,710.2 L2001.6,706.4 L2007.4,663.8 L2013.1,585.3 L2018.9,569.9 L2024.3,535.7 L2030.1,522.8 L2035.6,558.1 L2041.3,553.9 L2047.1,569.3 L2052.9,511.0 L2058.6,611.9 L2064.4,606.1 L2070.1,619.9 L2075.9,615.7 L2081.4,629.2 L2087.1,670.2 L2092.9,639.7 L2098.7,642.9 L2104.4,623.7 L2110.2,628.5 L2115.6,622.1 L2121.4,644.5 L2127.2,598.7 L2132.9,595.5 L2138.7,630.1 L2144.4,657.4 L2150.2,743.8 L2155.7,747.0 L2161.4,763.0 L2167.2,777.5 L2173.0,776.8 L2178.7,756.0 L2184.5,775.9 L2190.2,830.3 L2195.7,862.3 L2201.5,892.7 L2207.2,830.3 L2213.0,824.9 L2218.8,815.9 L2224.5,839.9 L2230.0,775.9 L2235.7,796.0 L2241.5,790.3 L2246.9,807.9 L2252.7,851.1 L2258.5,823.9 L2264.2,881.5 L2270.0,889.5 L2275.8,859.1 L2281.2,841.5 L2287.0,872.9 L2292.7,868.1 L2298.2,855.9 L2303.9,841.5 L2309.7,794.4 L2315.5,799.9 L2321.2,868.8 L2327.0,939.2 L2332.8,969.0 L2338.2,940.9 L2344.0,923.2 L2349.4,929.6 L2355.2,937.6 L2360.6,940.9 L2366.4,852.7 L2371.8,846.3 L2377.6,855.9 L2383.4,835.1 L2389.1,875.1 L2394.9,838.3 L2400.7,860.1 L2406.4,856.9 L2411.9,804.7 L2417.6,852.7 L2425.0,868.7 L2431.0,858.0 L2437.0,872.0 L2443.0,884.0 L2447.0,905.0 L2451.4,1000.0 L2453.7,1034.7 L2455.6,1097.3 L2457.2,1152.8 L2463.0,1117.6 L2468.8,1100.0 L2474.3,1095.4 L2479.9,1138.9 L2485.5,1093.8 L2491.2,1126.2 L2497.0,1108.8 L2502.6,1059.1 L2508.4,1046.3 L2513.9,1018.5 L2519.7,1054.4 L2525.5,1058.4 L2531.1,1053.7 L2536.0,1061.6 L2541.7,1075.1 L2547.4,1122.0 L2552.6,1146.2 L2558.4,1147.6 L2564.2,1136.8 L2570.0,1161.0 L2575.8,1136.8 L2581.5,1117.4 L2587.1,1096.1 L2592.9,1097.1 L2598.7,1085.1 L2604.5,1072.9 L2610.3,1105.7 L2615.9,1156.8 L2621.6,1176.3 L2627.4,1165.7 L2633.2,1176.6 L2639.0,1126.0 L2644.2,1129.3 L2650.0,1182.4 L2655.7,1109.9 L2661.5,1112.1 L2667.3,1119.5 L2673.1,1151.2 L2678.8,1170.6 L2684.6,1184.0 L2690.4,1192.6 L2696.2,1187.9 L2701.9,1171.8 L2707.7,1170.4 L2713.5,1152.3 L2719.3,1167.7 L2725.1,1177.9 L2730.5,1183.4 L2736.3,1201.0 L2742.0,1172.2 L2747.8,1119.4 L2753.6,1117.8 L2759.3,1105.0 L2765.1,1101.8 L2770.5,1111.4 L2776.3,1121.0 L2782.1,1133.8 L2787.5,1105.0 L2790.7,1053.7 L2797.1,1042.5 L2802.9,1044.1 L2808.3,1048.9 L2814.7,1045.7 L2820.5,1053.7 L2826.0,1062.7 L2831.7,1076.8 L2837.5,1072.9 L2843.2,1050.5 L2849.0,1049.9 L2854.8,1029.1 L2860.5,1053.7 L2866.0,1098.6 L2871.7,1106.6 L2877.5,1149.8 L2883.3,1149.2 L2889.0,1137.0 L2894.8,1178.6 L2900.6,1166.5 L2906.0,1161.0 L2911.8,1160.1 L2917.5,1165.8 L2923.3,1137.0 L2929.1,1169.0 L2934.8,1161.0 L2940.6,1160.1 L2946.1,1143.4 L2951.8,1162.6 L2957.3,1157.8 L2963.0,1156.2 L2968.8,1164.2 L2974.6,1175.4 L2980.3,1183.4 L2986.1,1181.8 L2991.8,1169.0 L2997.6,1202.6 L3003.4,1185.0 L3008.5,1180.2 L3013.5,1271.6 L3019.1,1281.8 L3024.8,1289.5 L3027.4,1291.0 L3031.7,1285.7 L3034.7,1315.6 L3037.3,1326.0 L3043.0,1343.7 L3048.9,1335.6 L3054.6,1350.0 L3066.1,1329.2 L3071.5,1327.2 L3077.2,1331.9 L3082.8,1324.1 L3088.5,1320.4 L3094.2,1354.2 L3099.8,1326.1 L3105.6,1314.3 L3111.3,1330.8 L3116.8,1305.6 L3122.3,1293.7 L3127.7,1275.5 L3133.8,1265.4 L3139.4,1275.5 L3145.1,1295.5 L3150.7,1301.9 L3156.4,1304.7 L3162.2,1298.3 L3167.0,1291.9" fill="none" stroke="#3fd363" stroke-width="2.3" stroke-linejoin="round"/>
<path d="M3162.5,489 V1713" stroke="#41455e" stroke-width="1.3"/>
<path d="M17,1547 H3209" stroke="#31354d" stroke-width="1.5"/>
<g id="note">
<text y="1338.9" font-size="57.6" font-weight="700" fill="#ffffff" stroke="#191c2e" stroke-width="1" stroke-linejoin="round"><tspan x="2112.6" textLength="105.4" lengthAdjust="spacingAndGlyphs">BTC</tspan> <tspan x="2233.0" textLength="45.6" lengthAdjust="spacingAndGlyphs">in</tspan> <tspan x="2294.7" textLength="212.5" lengthAdjust="spacingAndGlyphs">Extreme</tspan> <tspan x="2523.6" textLength="226.3" lengthAdjust="spacingAndGlyphs">Negative</tspan> <tspan x="2767.7" textLength="205.5" lengthAdjust="spacingAndGlyphs">Funding</tspan></text>
<text y="1419.3" font-size="57.6" font-weight="700" fill="#ffffff" stroke="#191c2e" stroke-width="1" stroke-linejoin="round"><tspan x="2112.4" textLength="116.8" lengthAdjust="spacingAndGlyphs">Rate</tspan> <tspan x="2245.6" textLength="141.4" lengthAdjust="spacingAndGlyphs">Zone,</tspan> <tspan x="2401.0" textLength="287.7" lengthAdjust="spacingAndGlyphs">Historically</tspan></text>
<text y="1500.5" font-size="57.6" font-weight="700" fill="#ffffff" stroke="#191c2e" stroke-width="1" stroke-linejoin="round"><tspan x="2112.2" textLength="390.8" lengthAdjust="spacingAndGlyphs">Foreshadowing</tspan> <tspan x="2523.0" textLength="135.2" lengthAdjust="spacingAndGlyphs">Short</tspan> <tspan x="2678.3" textLength="311.5" lengthAdjust="spacingAndGlyphs">Liquidations</tspan></text>
</g>
<g stroke="#4fc3aa" stroke-width="11.5" stroke-linecap="round" stroke-linejoin="round" fill="none"><path d="M2919,1419 L3090,1342"/><path d="M3032,1323 L3091,1342 L3066,1398"/></g>
<rect x="114.5" y="1060.7" width="197.5" height="653.3" rx="5" fill="#149d2a" fill-opacity="0.2" stroke="#1f9f6b" stroke-width="3.7" stroke-dasharray="10,6.5"/>
<rect x="1198.5" y="1060.7" width="70.5" height="583.8" rx="5" fill="#149d2a" fill-opacity="0.2" stroke="#1f9f6b" stroke-width="3.7" stroke-dasharray="10,6.5"/>
<rect x="2456.5" y="1060.7" width="70.5" height="580.3" rx="5" fill="#149d2a" fill-opacity="0.2" stroke="#1f9f6b" stroke-width="3.7" stroke-dasharray="10,6.5"/>
<rect x="3116" y="1060.7" width="52" height="448.8" rx="5" fill="#149d2a" fill-opacity="0.2" stroke="#1f9f6b" stroke-width="3.7" stroke-dasharray="10,6.5"/>
<path d="M3209,489 V1706" stroke="#2fb85a" stroke-width="2"/>
<g font-size="16.4" fill="#8b90a9">
<text x="3218" y="493.4">69K</text>
<text x="3218" y="645.5">64.1K</text>
<text x="3218" y="797.7">59.1K</text>
<text x="3218" y="949.8">54.2K</text>
<text x="3218" y="1101.9">49.2K</text>
<text x="3218" y="1254.1">44.3K</text>
<text x="3218" y="1406.2">39.3K</text>
<text x="3218" y="1558.3">34.4K</text>
<text x="3218" y="1709.2">29.5K</text>
</g>
<rect x="3214" y="1536" width="52" height="21.5" fill="#2f334d"/><text x="3218" y="1551.5" font-size="16.4" fill="#9ea3c0">34.6K</text>
<rect x="3213.5" y="1273" width="53" height="21.5" fill="#26c953"/><text x="3217.5" y="1289.5" font-size="16" font-weight="700" fill="#ffffff">43.2K</text>
<g font-size="16" fill="#8b90a9" text-anchor="middle">
<text x="57.0" y="1727.3">13 Jul 21</text>
<text x="282.9" y="1727.3">29 Jul 21</text>
<text x="550.2" y="1727.3">14 Aug 21</text>
<text x="817.6" y="1727.3">29 Aug 21</text>
<text x="1084.9" y="1727.3">14 Sep 21</text>
<text x="1352.2" y="1727.3">30 Sep 21</text>
<text x="1619.6" y="1727.3">15 Oct 21</text>
<text x="1887.0" y="1727.3">31 Oct 21</text>
<text x="2154.3" y="1727.3">16 Nov 21</text>
<text x="2421.7" y="1727.3">01 Dec 21</text>
<text x="2689.0" y="1727.3">17 Dec 21</text>
<text x="2956.4" y="1727.3">02 Jan 22</text>
<text x="3202" y="1727.3">18 Jan 22</text>
</g>
<rect x="3121" y="1713" width="82" height="21" fill="#2f334d"/><text x="3162" y="1728.5" font-size="16" fill="#9ea3c0" text-anchor="middle">14 Jan 22</text>
<circle cx="3264.7" cy="395.7" r="10" fill="#1d4a36"/><circle cx="3264.7" cy="395.7" r="6.3" fill="#26c953"/>
<g id="tabs">
<rect x="16" y="370.5" width="396.5" height="51" rx="5" fill="#1e2a3b" stroke="#2f5868" stroke-width="1.6"/>
<path d="M23.5,370 h-3 a5,5 0 0 0 -5,5 v42 a5,5 0 0 0 5,5 h3 z" fill="#5fd3f1"/>
<text x="32.5" y="402" font-size="21" fill="#ffffff" stroke="#ffffff" stroke-width="0.4" textLength="282.5" lengthAdjust="spacingAndGlyphs">Average Funding Rate (BTC)</text>
<g fill="#6f7590"><circle cx="347.8" cy="388.5" r="1.5"/><circle cx="347.8" cy="396" r="1.5"/><circle cx="347.8" cy="403.5" r="1.5"/></g>
<path d="M380.8,389.8 l10.4,10.4 m0,-10.4 l-10.4,10.4" stroke="#8b90a9" stroke-width="1.7"/>
<rect x="427" y="370.5" width="223" height="51" rx="5" fill="none" stroke="#23273c" stroke-width="1.4"/>
<path d="M434,370 h-3 a5,5 0 0 0 -5,5 v42 a5,5 0 0 0 5,5 h3 z" fill="#26c953"/>
<text x="443.5" y="402" font-size="21" fill="#ffffff" stroke="#ffffff" stroke-width="0.4" textLength="109.5" lengthAdjust="spacingAndGlyphs">Price (BTC)</text>
<g fill="#6f7590"><circle cx="585" cy="388.5" r="1.5"/><circle cx="585" cy="396" r="1.5"/><circle cx="585" cy="403.5" r="1.5"/></g>
<path d="M619,389.8 l10.4,10.4 m0,-10.4 l-10.4,10.4" stroke="#8b90a9" stroke-width="1.7"/>
</g>
<g id="settings" font-size="18.5" fill="#727998" stroke="#727998" stroke-width="0.35">
<text x="16" y="459" textLength="142.5" lengthAdjust="spacingAndGlyphs">Style: Filled area</text><path d="M173.3,450 l5.2,5.2 l5.2,-5.2" stroke="#737995" stroke-width="1.5" fill="none"/><path d="M16,470 H186" stroke="#2b2f46" stroke-width="1.3" stroke-dasharray="3,2.5" fill="none"/>
<rect x="211" y="444" width="16.5" height="16.5" rx="3.5" fill="#5fd3f1" stroke="none"/><path d="M242.3,450 l5.2,5.2 l5.2,-5.2" stroke="#737995" stroke-width="1.5" fill="none"/><path d="M211,470 H255" stroke="#2b2f46" stroke-width="1.3" stroke-dasharray="3,2.5" fill="none"/>
<g stroke="#737995" stroke-width="1.7" fill="none"><rect x="281.5" y="443" width="24.5" height="18" rx="1.5"/><path d="M289,443 v8 M294,443 v6 M299,443 v8"/></g>
<text x="320" y="459" textLength="153" lengthAdjust="spacingAndGlyphs">Interval: Auto (8h)</text><path d="M487.3,450 l5.2,5.2 l5.2,-5.2" stroke="#737995" stroke-width="1.5" fill="none"/><path d="M281,470 H500" stroke="#2b2f46" stroke-width="1.3" stroke-dasharray="3,2.5" fill="none"/>
<text x="526" y="459" textLength="87" lengthAdjust="spacingAndGlyphs">Show axis</text><rect x="626" y="439.5" width="25" height="25" rx="4" fill="none" stroke="#23273c" stroke-width="1.4"/><path d="M526,470 H651" stroke="#2b2f46" stroke-width="1.3" stroke-dasharray="3,2.5" fill="none"/>
<text x="678.5" y="459" textLength="363" lengthAdjust="spacingAndGlyphs">Expression: ((x1 + x2 +x3 + x4) / 4) - 0.0001</text><path d="M1055.8,450 l5.2,5.2 l5.2,-5.2" stroke="#737995" stroke-width="1.5" fill="none"/><path d="M678,470 H1069" stroke="#2b2f46" stroke-width="1.3" stroke-dasharray="3,2.5" fill="none"/>
<text x="1094" y="459" textLength="212.5" lengthAdjust="spacingAndGlyphs">Axis max/min: Auto/Auto</text><path d="M1321.3,450 l5.2,5.2 l5.2,-5.2" stroke="#737995" stroke-width="1.5" fill="none"/><path d="M1094,470 H1334" stroke="#2b2f46" stroke-width="1.3" stroke-dasharray="3,2.5" fill="none"/>
</g>
<g id="tooltip">
<rect x="15.5" y="488" width="411" height="137" fill="#1b1e32" stroke="#272b42" stroke-width="1.4"/>
<rect x="16" y="488.5" width="410" height="45.5" fill="#232740"/>
<text x="33.5" y="517" font-size="19.7" fill="#8b90a9">00:00, January 14, 2022</text>
<rect x="33.5" y="563" width="13" height="2.6" fill="#26c953"/><text x="60" y="571" font-size="19.6" fill="#ffffff">$43,065.39 <tspan fill="#8b90a9">Price (BTC)</tspan></text>
<rect x="33.5" y="591" width="13" height="2.6" fill="#5fd3f1"/><text x="60" y="599" font-size="19.6" fill="#ffffff">-0.000163 <tspan fill="#8b90a9">Average Funding Rate (BTC)</tspan></text>
</g>
<g id="minimap">
<rect x="17" y="1756" width="3269" height="63" rx="6" fill="none" stroke="#23273c" stroke-width="1.4"/>
<rect x="3101" y="1756" width="185.5" height="65" fill="#24283d"/>
<path d="M17.0,1820.0 L1300.0,1819.5 L1500.0,1818.0 L1626.0,1814.7 L1727.0,1811.7 L1740.0,1810.0 L1747.0,1803.0 L1762.0,1803.0 L1783.0,1805.6 L1808.0,1812.0 L1833.0,1808.6 L1874.0,1812.0 L1899.0,1809.6 L1954.0,1812.7 L1985.0,1811.0 L2096.0,1812.0 L2111.0,1815.7 L2232.0,1814.7 L2278.0,1813.0 L2328.0,1807.6 L2358.0,1809.6 L2424.0,1811.7 L2510.0,1812.0 L2586.0,1809.6 L2596.0,1813.7 L2661.0,1810.6 L2700.0,1810.4 L2730.2,1810.4 L2739.5,1808.1 L2755.7,1808.1 L2778.9,1809.8 L2816.1,1808.8 L2834.6,1805.8 L2853.2,1802.3 L2867.1,1801.2 L2876.4,1802.3 L2883.4,1797.2 L2888.0,1797.2 L2899.6,1789.6 L2904.3,1781.4 L2908.9,1787.2 L2915.9,1785.6 L2922.9,1788.4 L2932.1,1785.6 L2936.8,1768.7 L2944.9,1767.0 L2949.6,1757.8 L2953.0,1775.6 L2961.2,1773.3 L2969.3,1762.9 L2976.2,1765.2 L2982.1,1771.0 L2989.0,1764.0 L2997.1,1764.7 L3002.2,1758.2 L3008.8,1771.0 L3016.9,1766.3 L3022.7,1769.8 L3027.3,1764.7 L3034.3,1775.6 L3043.6,1783.8 L3052.9,1785.6 L3065.6,1783.3 L3073.8,1789.6 L3083.0,1786.1 L3094.6,1788.4 L3100.9,1789.6" fill="none" stroke="#393d55" stroke-width="1.8"/>
<path d="M2908,1804.6 H3101" stroke="#393d55" stroke-width="1.2"/>
<path d="M2907.8,1784.9 L2912.4,1791.9 L2917.1,1793.0 L2921.7,1805.8 L2924.0,1806.5 L2928.7,1797.7 L2933.3,1788.4 L2936.8,1776.8 L2941.4,1775.6 L2949.6,1760.5 L2955.4,1802.3 L2961.2,1804.6 L2969.3,1787.2 L2975.1,1790.7 L2982.1,1801.2 L2986.7,1797.7 L2990.2,1765.2 L2997.1,1784.9 L3002.2,1758.2 L3011.1,1804.6 L3014.6,1802.3 L3018.0,1805.8 L3023.8,1797.7 L3030.8,1797.2 L3038.9,1812.8 L3042.4,1813.9 L3049.4,1808.1 L3058.7,1813.9 L3066.8,1816.2 L3076.1,1815.1 L3080.7,1816.7 L3086.5,1812.8 L3094.6,1810.4 L3100.9,1809.8 L3101,1804.6 L2907.8,1804.6 Z" fill="#393d55" fill-opacity="0.18" stroke="none"/>
<path d="M2907.8,1784.9 L2912.4,1791.9 L2917.1,1793.0 L2921.7,1805.8 L2924.0,1806.5 L2928.7,1797.7 L2933.3,1788.4 L2936.8,1776.8 L2941.4,1775.6 L2949.6,1760.5 L2955.4,1802.3 L2961.2,1804.6 L2969.3,1787.2 L2975.1,1790.7 L2982.1,1801.2 L2986.7,1797.7 L2990.2,1765.2 L2997.1,1784.9 L3002.2,1758.2 L3011.1,1804.6 L3014.6,1802.3 L3018.0,1805.8 L3023.8,1797.7 L3030.8,1797.2 L3038.9,1812.8 L3042.4,1813.9 L3049.4,1808.1 L3058.7,1813.9 L3066.8,1816.2 L3076.1,1815.1 L3080.7,1816.7 L3086.5,1812.8 L3094.6,1810.4 L3100.9,1809.8" fill="none" stroke="#393d55" stroke-width="1.8"/>
<path d="M3100.9,1809.3 L3105.1,1815.1 L3109.7,1818.1 L3115.5,1811.6 L3121.3,1809.3 L3127.1,1808.1 L3134.1,1807.0 L3138.8,1804.2 L3142.2,1805.8 L3146.9,1802.3 L3151.5,1801.9 L3153.8,1805.8 L3160.8,1808.1 L3165.4,1810.4 L3170.6,1815.8 L3174.7,1810.4 L3182.9,1807.4 L3189.8,1803.5 L3195.6,1797.7 L3199.1,1797.2 L3206.1,1801.9 L3210.7,1796.5 L3214.2,1799.5 L3219.5,1794.9 L3223.5,1802.3 L3228.1,1807.0 L3240.9,1805.8 L3244.4,1814.4 L3247.9,1808.8 L3257.1,1807.0 L3264.1,1808.1 L3269.9,1807.4 L3275.7,1808.4 L3280.4,1809.8 L3285.0,1815.1 L3286,1804.6 L3101,1804.6 Z" fill="#5fc4ee" fill-opacity="0.3" stroke="none"/>
<path d="M3101,1804.6 H3286" stroke="#a9dff0" stroke-width="1.2"/>
<path d="M3100.9,1809.3 L3105.1,1815.1 L3109.7,1818.1 L3115.5,1811.6 L3121.3,1809.3 L3127.1,1808.1 L3134.1,1807.0 L3138.8,1804.2 L3142.2,1805.8 L3146.9,1802.3 L3151.5,1801.9 L3153.8,1805.8 L3160.8,1808.1 L3165.4,1810.4 L3170.6,1815.8 L3174.7,1810.4 L3182.9,1807.4 L3189.8,1803.5 L3195.6,1797.7 L3199.1,1797.2 L3206.1,1801.9 L3210.7,1796.5 L3214.2,1799.5 L3219.5,1794.9 L3223.5,1802.3 L3228.1,1807.0 L3240.9,1805.8 L3244.4,1814.4 L3247.9,1808.8 L3257.1,1807.0 L3264.1,1808.1 L3269.9,1807.4 L3275.7,1808.4 L3280.4,1809.8 L3285.0,1815.1" fill="none" stroke="#6ad2f1" stroke-width="2"/>
<path d="M3103.9,1788.9 L3108.6,1782.6 L3113.2,1779.6 L3117.9,1781.4 L3122.5,1777.9 L3129.5,1776.3 L3134.1,1773.3 L3139.9,1774.5 L3144.6,1773.3 L3150.4,1771.0 L3155.0,1776.3 L3158.5,1777.2 L3162.0,1774.9 L3167.8,1781.4 L3171.2,1779.1 L3174.7,1781.0 L3179.4,1773.3 L3185.2,1766.3 L3191.0,1761.7 L3195.6,1759.4 L3202.6,1765.2 L3207.2,1762.9 L3211.9,1762.4 L3215.8,1757.5 L3220.0,1759.4 L3224.6,1762.9 L3230.4,1764.7 L3236.2,1766.3 L3240.9,1767.5 L3247.9,1774.9 L3253.7,1775.6 L3257.1,1774.0 L3264.1,1771.7 L3269.9,1776.8 L3273.4,1776.3 L3278.0,1781.0 L3282.7,1779.1 L3286.6,1777.5" fill="none" stroke="#3fd363" stroke-width="2"/>
<rect x="3097.5" y="1775.5" width="7" height="24.5" fill="#9a9fc6"/><rect x="3282.5" y="1775.5" width="7" height="24.5" fill="#9a9fc6"/>
</g>
</svg></body></html>
